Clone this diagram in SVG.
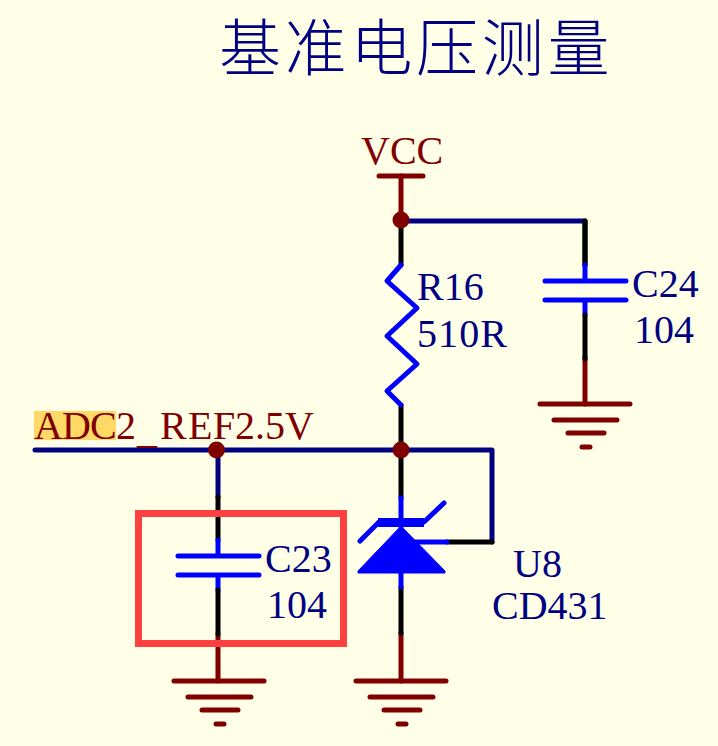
<svg xmlns="http://www.w3.org/2000/svg" width="718" height="746" viewBox="0 0 718 746">
<style>
.l{fill:none;stroke-width:5;stroke-linecap:round;stroke-linejoin:round}
.n{stroke:#000080}.k{stroke:#000}.b{stroke:#0000ff}.r{stroke:#800000}
.t{font-family:"Liberation Serif","Times New Roman",serif;font-size:40px}
.tn{fill:#000080}.tr{fill:#800000}
.j{fill:#800000}
</style>
<defs>
<g id="gnd" class="l r"><path d="M2 0H92M16 16H79M30 29H66M44 43H52"/></g>
<g id="cap">
<path class="l k" d="M0 -43V0"/>
<path class="l b" d="M0 0V16M-40 16H41M-40 35H41M0 35V50"/>
<path class="l k" d="M0 50V94"/>
</g>
</defs>
<rect width="718" height="746" fill="#ffffe8"/>
<g id="title"><text x="219" y="71" font-family="'Noto Sans CJK SC',sans-serif" font-size="62" font-weight="300" letter-spacing="3.700" fill="#000080">基准电压测量</text></g>
<g id="connectors">
<path class="l r" d="M401 176V220"/>
<path class="l n" d="M401 221H585"/>
<path class="l k" d="M585 221V265"/>
<path class="l k" d="M401 228V265M401 405V450"/>
<path class="l n" d="M35 450H492V542"/>
<path class="l k" d="M447 542H492"/>
<path class="l n" d="M218 450V497"/>
<path class="l r" d="M585 357V404M218 634V681M401 633V681"/>
<path class="l k" d="M401 455V498M401 587V633"/>
</g>
<g id="vcc">
<path class="l r" d="M379 176H423"/>
<text class="t tr" x="361" y="164">VCC</text>
<circle class="j" cx="401" cy="220" r="8.500"/>
</g>
<g id="r16">
<path class="l b" d="M401 265L387 281L417 308L387 336L417 364L387 391L401 405"/>
<text class="t tn" x="417" y="300">R16</text>
<text class="t tn" x="417" y="347" textLength="90">510R</text>
</g>
<g id="c24">
<use href="#cap" x="585" y="265"/>
<text class="t tn" x="632" y="297">C24</text>
<text class="t tn" x="634" y="343">104</text>
</g>
<use id="gnd-c24" href="#gnd" x="538" y="404"/>
<g id="net-label">
<rect x="34" y="411" width="82" height="29" fill="#ffd966"/>
<text class="t tr" y="439" x="34 62 90 116 137 160 188 213 235 255 265 285" dy="0 0 0 0 4 -4">ADC2_REF2.5V</text>
</g>
<circle id="j-left" class="j" cx="216.500" cy="450" r="8.500"/>
<circle id="j-mid" class="j" cx="401" cy="450" r="8.500"/>
<g id="c23">
<use href="#cap" x="218" y="540"/>
<text class="t tn" x="265" y="572">C23</text>
<text class="t tn" x="267" y="618">104</text>
</g>
<use id="gnd-c23" href="#gnd" x="172" y="681"/>
<g id="u8">
<path class="l b" d="M401 498V527M401 572V587M415 542H447"/>
<path d="M401 526L445 571V573H358V571Z" fill="#0000ff" stroke="#0000ff" stroke-width="1" stroke-linejoin="round"/>
<path class="l b" d="M360 541L379 522H424L444 503"/>
<path d="M378 518H424V527H378Z" fill="#0000ff"/>
<text class="t tn" x="513" y="577">U8</text>
<text class="t tn" x="492" y="619">CD431</text>
</g>
<use id="gnd-u8" href="#gnd" x="354" y="681"/>
<rect id="highlight-box" x="138.500" y="513.500" width="205" height="130" fill="none" stroke="#ff4040" stroke-width="7"/>
</svg>
